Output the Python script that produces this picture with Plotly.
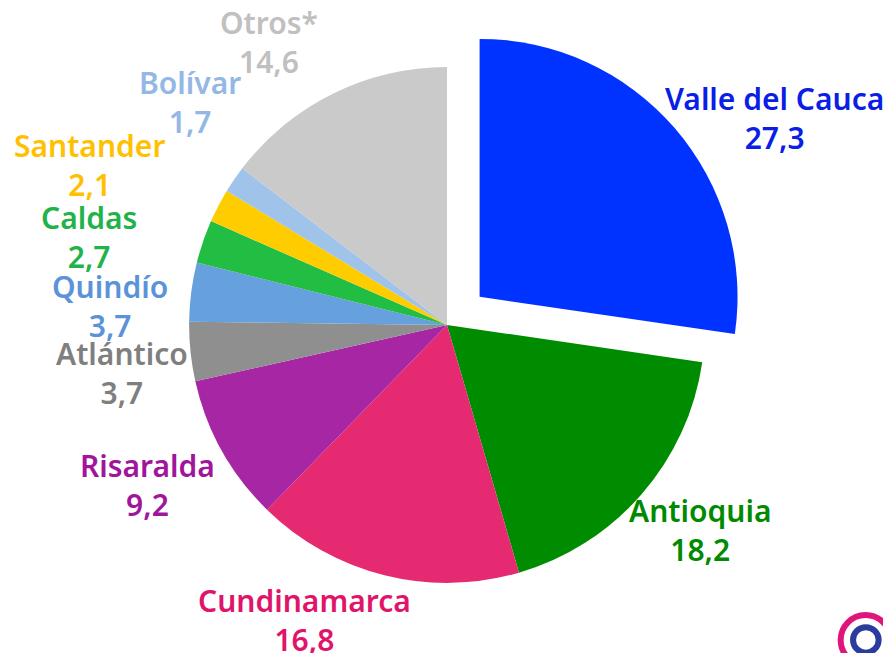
import math
import plotly.graph_objects as go

departamentos = ["Valle del Cauca", "Antioquia", "Cundinamarca", "Risaralda", "Atlántico",
                 "Quindío", "Caldas", "Santander", "Bolívar", "Otros*"]
porcentajes = [27.3, 18.2, 16.8, 9.2, 3.7, 3.7, 2.7, 2.1, 1.7, 14.6]

# styles / layout
colores = ["#0033FF", "#008C00", "#E62A72", "#A626A4", "#8F8F8F",
           "#66A1DE", "#21BE43", "#FFCC00", "#A0C3EA", "#CACACA"]
colores_texto = ["#0A1EE6", "#008A00", "#E0156A", "#A0159B", "#7F7F7F",
                 "#5B93D8", "#22B24A", "#FFC000", "#93B8E6", "#C0C0C0"]
separacion = [0.167, 0, 0, 0, 0, 0, 0, 0, 0, 0]
# label placement relative to each slice (angle nudge in degrees, distance in radii)
ajuste_angulo = [9.7, -2.0, 11.8, 1.0, -2.5, -4.2, -5.1, -3.4, 6.6, -5.9]
distancia_etiqueta = [1.337, 1.262, 1.270, 1.316, 1.273, 1.310, 1.429, 1.520, 1.319, 1.296]

W, H = 883, 645
dom_x = [0.1563, 0.8381]
dom_y = [0.0419, 0.9752]

fig = go.Figure(go.Pie(
    labels=departamentos,
    values=porcentajes,
    sort=False,
    direction="clockwise",
    rotation=0,
    pull=separacion,
    marker=dict(colors=colores, line=dict(width=0)),
    textinfo="none",
    hoverinfo="label+value",
    showlegend=False,
    domain=dict(x=dom_x, y=dom_y),
))

# pie geometry in pixels (matches plotly's own layout for the domain)
cx = (dom_x[0] + dom_x[1]) / 2 * W
cy = (1 - (dom_y[0] + dom_y[1]) / 2) * H
r_dom = min((dom_x[1] - dom_x[0]) * W, (dom_y[1] - dom_y[0]) * H) / 2
radio = r_dom / (1 + max(separacion))

total = sum(porcentajes)
acum = 0.0
for nombre, val, col, sep, da, dist in zip(departamentos, porcentajes, colores_texto,
                                           separacion, ajuste_angulo, distancia_etiqueta):
    medio = (acum + val / 2) / total * 360.0
    acum += val
    th = math.radians(medio)
    px = cx + sep * radio * math.sin(th)
    py = cy - sep * radio * math.cos(th)
    ang = math.radians(medio + da)
    lx = px + dist * radio * math.sin(ang)
    ly = py - dist * radio * math.cos(ang)
    texto_val = f"{val:.1f}".replace(".", ",")
    fig.add_annotation(
        x=lx / W, y=1 - ly / H, xref="paper", yref="paper",
        text=f"{nombre}<br>{texto_val}", showarrow=False,
        xanchor="center", yanchor="middle", align="center",
        font=dict(family="Noto Sans", size=30, color=col, weight=600),
    )

# small logo in the bottom-right corner
fig.add_shape(type="circle", xref="paper", yref="paper",
              x0=0.943, x1=0.9994, y0=-0.0186, y1=0.059,
              line=dict(color="#E0157A", width=6), fillcolor="rgba(0,0,0,0)")
fig.add_shape(type="circle", xref="paper", yref="paper",
              x0=0.957, x1=0.986, y0=0.0005, y1=0.040,
              line=dict(color="#2A3C9E", width=6), fillcolor="#FFFFFF")

fig.update_layout(
    width=W, height=H,
    margin=dict(l=0, r=0, t=0, b=0),
    paper_bgcolor="white", plot_bgcolor="white",
    font=dict(family="Noto Sans"),
)

fig.write_html("out.html")
